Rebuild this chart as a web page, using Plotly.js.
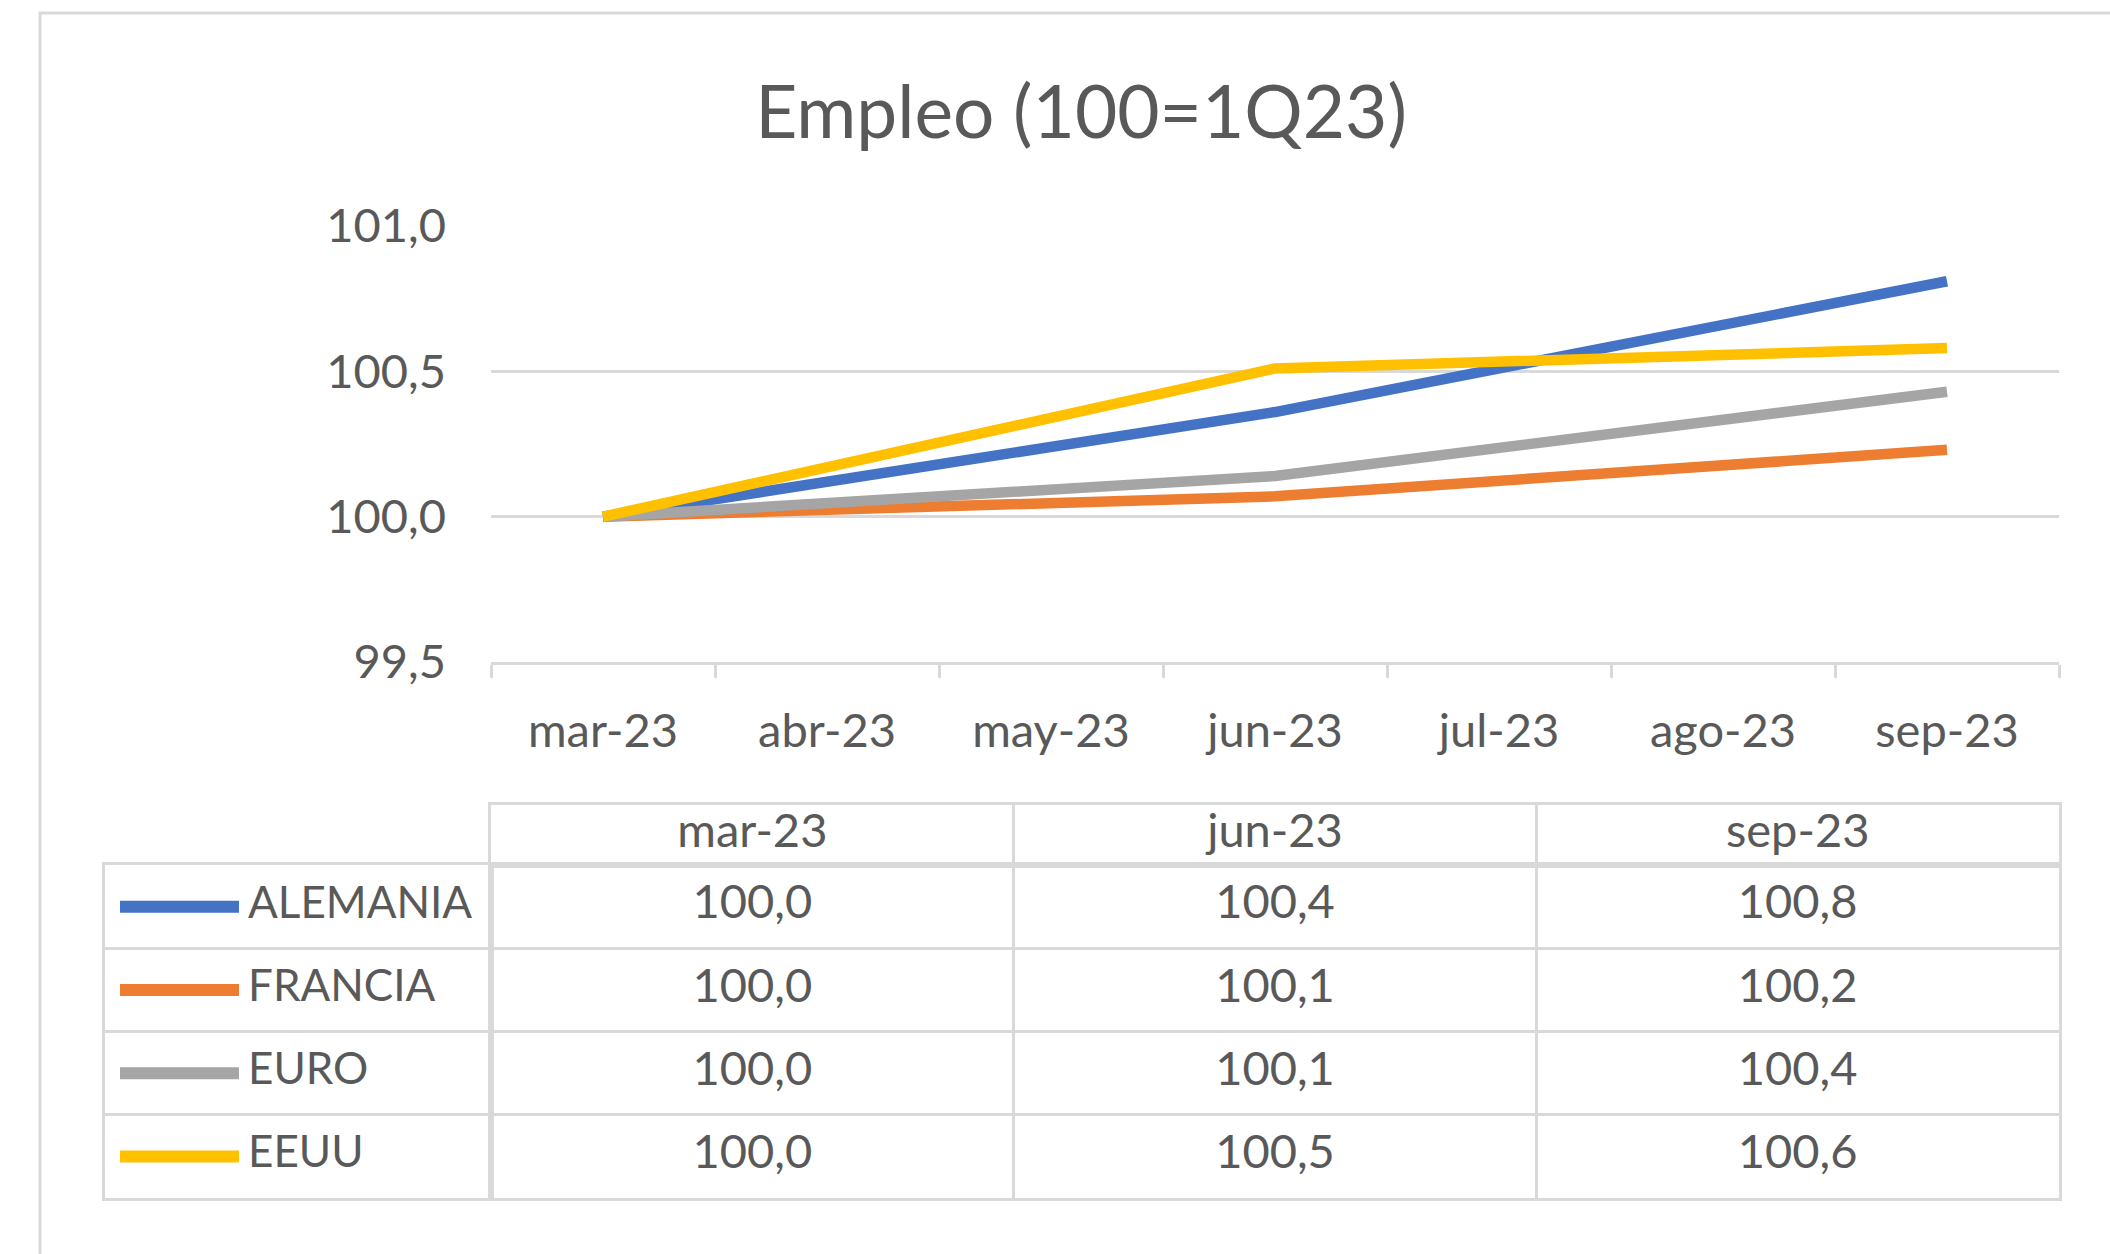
<!DOCTYPE html>
<html>
<head>
<meta charset="utf-8">
<script src="https://cdn.plot.ly/plotly-3.0.1.min.js"></script>
<style>
  html, body { margin: 0; padding: 0; background: #ffffff; }
  #chart { width: 2110px; height: 1254px; }
</style>
</head>
<body>
<div id="chart"></div>
<script>
// ---------------- DATA ----------------
const months   = ['mar-23', 'abr-23', 'may-23', 'jun-23', 'jul-23', 'ago-23', 'sep-23'];
const quarters = ['mar-23', 'jun-23', 'sep-23'];
const seriesNames = ['ALEMANIA', 'FRANCIA', 'EURO', 'EEUU'];
const alemania = [100.0, 100.36, 100.81];
const francia  = [100.0, 100.07, 100.23];
const euro     = [100.0, 100.14, 100.43];
const eeuu     = [100.0, 100.51, 100.58];
const chartTitle = 'Empleo (100=1Q23)';
const headerRow = 'header';

// ---------------- STYLE ----------------
const W = 2110, H = 1254;
const FONT = 'Lato, "Open Sans", sans-serif';
const TXT = '#595959';
const GRID = '#d9d9d9';
const colors = ['#4472C4', '#ED7D31', '#A5A5A5', '#FFC000'];
const seriesValues = [alemania, francia, euro, eeuu];

const px = v => v / W;          // horizontal pixel -> paper
const py = v => 1 - v / H;      // vertical pixel -> paper

const fmt = v => v.toFixed(1).replace('.', ',');

const traces = [];

// main lines
seriesNames.forEach((name, i) => {
  traces.push({
    type: 'scatter', mode: 'lines',
    x: quarters, y: seriesValues[i],
    xaxis: 'x', yaxis: 'y',
    name: name,
    line: { color: colors[i], width: 10.5 },
    connectgaps: true,
    showlegend: false, hoverinfo: 'skip'
  });
});

// table header
traces.push({
  type: 'scatter', mode: 'text',
  x: quarters, y: quarters.map(() => headerRow),
  text: quarters,
  xaxis: 'x2', yaxis: 'y4',
  textposition: 'middle center',
  textfont: { family: FONT, size: 47, color: TXT },
  showlegend: false, hoverinfo: 'skip'
});

// table values
seriesNames.forEach((name, i) => {
  traces.push({
    type: 'scatter', mode: 'text',
    x: quarters, y: quarters.map(() => name),
    text: seriesValues[i].map(fmt),
    xaxis: 'x2', yaxis: 'y2',
    textposition: 'middle center',
    textfont: { family: FONT, size: 47, color: TXT },
    showlegend: false, hoverinfo: 'skip'
  });
});

// legend column labels
const LABEL_X = (248 - 105) / 386;
traces.push({
  type: 'scatter', mode: 'text',
  x: seriesNames.map(() => LABEL_X), y: seriesNames,
  text: seriesNames,
  xaxis: 'x3', yaxis: 'y2',
  textposition: 'middle right',
  textfont: { family: FONT, size: 44, color: TXT },
  showlegend: false, hoverinfo: 'skip'
});

// legend swatches (layout decorations in legend column)
const shapes = seriesNames.map((name, i) => ({
  type: 'line', xref: 'x3', yref: 'y2',
  x0: (120 - 105) / 386, x1: (239 - 105) / 386,
  y0: name, y1: name,
  line: { color: colors[i], width: 12 }
}));
// outer chart frame
shapes.push({
  type: 'rect', xref: 'paper', yref: 'paper',
  x0: px(40), x1: 1.02, y0: py(13), y1: -0.02,
  line: { color: GRID, width: 3 }, fillcolor: 'rgba(0,0,0,0)', layer: 'below'
});

const layout = {
  width: W, height: H,
  margin: { l: 0, r: 0, t: 0, b: 0, pad: 0 },
  paper_bgcolor: '#ffffff', plot_bgcolor: '#ffffff',
  separators: ',.',
  hovermode: false,
  showlegend: false,
  font: { family: FONT, color: TXT, size: 47 },
  title: {
    text: chartTitle,
    x: px(1081), xanchor: 'center', xref: 'paper',
    y: py(112), yanchor: 'middle', yref: 'paper',
    font: { family: FONT, size: 73, color: TXT }
  },
  xaxis: {
    type: 'category', categoryorder: 'array', categoryarray: months,
    domain: [px(491), px(2059)], anchor: 'y',
    range: [-0.5, 6.5], tickson: 'boundaries',
    ticks: 'outside', ticklen: 13, tickwidth: 3, tickcolor: GRID,
    showline: true, linecolor: GRID, linewidth: 3,
    showgrid: false, zeroline: false,
    tickfont: { family: FONT, size: 47, color: TXT },
    ticklabelstandoff: 26,
    fixedrange: true
  },
  yaxis: {
    domain: [py(662), py(226)], anchor: 'x',
    range: [99.5, 101.0], tick0: 99.5, dtick: 0.5, tickformat: '.1f',
    showgrid: true, gridcolor: GRID, gridwidth: 3,
    zeroline: false, showline: false, ticks: '',
    tickfont: { family: FONT, size: 47, color: TXT },
    ticklabelstandoff: 44,
    fixedrange: true
  },
  xaxis2: {
    type: 'category', categoryorder: 'array', categoryarray: quarters,
    domain: [px(491), px(2059)], anchor: 'y2',
    range: [-0.5, 2.5], tickson: 'boundaries',
    showgrid: true, gridcolor: GRID, gridwidth: 3,
    showticklabels: false, ticks: '',
    showline: true, mirror: 'all', linecolor: GRID, linewidth: 3,
    zeroline: false, fixedrange: true
  },
  yaxis2: {
    type: 'category', categoryorder: 'array', categoryarray: seriesNames,
    domain: [py(1198), py(865)], anchor: 'x2',
    range: [3.5, -0.5], tickson: 'boundaries',
    showgrid: true, gridcolor: GRID, gridwidth: 3,
    showticklabels: false, ticks: '',
    showline: true, mirror: 'all', linecolor: GRID, linewidth: 3,
    zeroline: false, fixedrange: true
  },
  xaxis3: {
    domain: [px(105), px(491)], anchor: 'y2',
    range: [0, 1],
    showgrid: false, zeroline: false, showticklabels: false, ticks: '',
    showline: true, mirror: true, linecolor: GRID, linewidth: 3,
    fixedrange: true
  },
  yaxis4: {
    type: 'category', categoryarray: [headerRow],
    domain: [py(865), py(805)], anchor: 'x2',
    range: [-0.5, 0.5],
    showgrid: false, zeroline: false, showticklabels: false, ticks: '',
    showline: true, mirror: true, linecolor: GRID, linewidth: 3,
    fixedrange: true
  },
  shapes: shapes
};

Plotly.newPlot('chart', traces, layout, { staticPlot: true, displayModeBar: false });
</script>
</body>
</html>
